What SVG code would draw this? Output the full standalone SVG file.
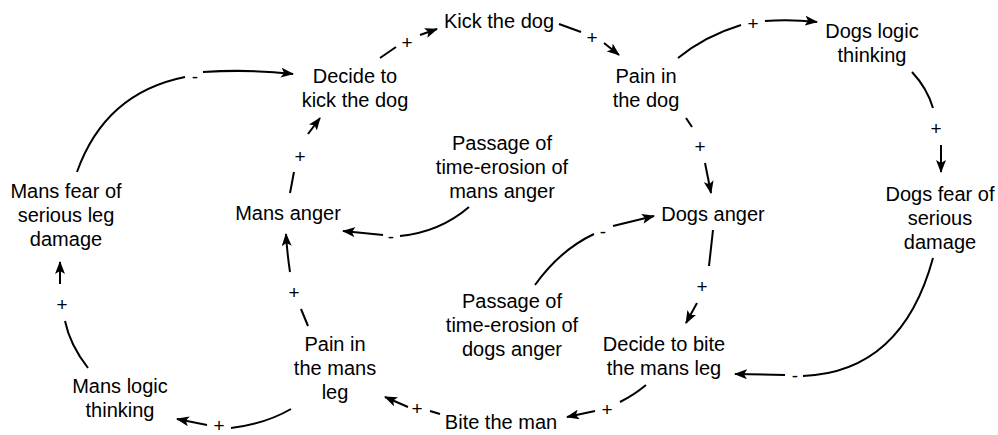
<svg xmlns="http://www.w3.org/2000/svg" width="998" height="435" viewBox="0 0 998 435">
<defs>
<style>
.n text{font-family:"Liberation Sans",Arial,Helvetica,sans-serif;font-size:20px;text-anchor:middle;fill:#000}
.c path{fill:none;stroke:#000;stroke-width:2}
.c path.a{marker-end:url(#ah)}
.c text{font-family:"Liberation Sans",Arial,Helvetica,sans-serif;font-size:19px;text-anchor:middle;fill:#000}
</style>
<marker id="ah" markerUnits="userSpaceOnUse" viewBox="0 0 13 10" refX="12" refY="5" markerWidth="13" markerHeight="10" orient="auto">
<path d="M0,0 L13,5 L0,10 L3,5 z" fill="#000"/>
</marker>
</defs>
<rect width="998" height="435" fill="#fff"/>
<g class="c" id="connectors">
<path d="M77,172 Q105,93 185,77"/><path class="a" d="M203,72 Q250,69 293,74"/><text x="195" y="83">-</text>
<path d="M380,58 L396,47"/><path class="a" d="M420,35 L437,29"/><text x="407" y="49">+</text>
<path d="M559,24 L581,32"/><path class="a" d="M604,43 L619,55"/><text x="592" y="44">+</text>
<path d="M678,58 Q705,36 741,25"/><path class="a" d="M765,21 Q790,19 817,22"/><text x="753" y="30">+</text>
<path d="M912,72 Q927,88 933,108"/><path class="a" d="M941,145 L941,172"/><text x="936" y="135">+</text>
<path d="M686,118 L692,127"/><path class="a" d="M705,163 L711,193"/><text x="700" y="153">+</text>
<path d="M933,258 Q902,372 803,376"/><path class="a" d="M785,375 L735,374"/><text x="795" y="382">-</text>
<path d="M713,230 L709,266"/><path class="a" d="M697,303 L686,323"/><text x="702" y="293">+</text>
<path d="M646,385 Q634,395 620,402"/><path class="a" d="M595,411 L567,417"/><text x="607" y="416">+</text>
<path d="M440,414 L430,411"/><path class="a" d="M408,407 L385,397"/><text x="417" y="415">+</text>
<path d="M291,409 Q265,424 231,428"/><path class="a" d="M207,425 L177,419"/><text x="219" y="432">+</text>
<path d="M88,368 Q70,345 65,321"/><path class="a" d="M60,284 L60,262"/><text x="62" y="311">+</text>
<path d="M308,326 L301,309"/><path class="a" d="M290,272 Q287,252 286,234"/><text x="294" y="299">+</text>
<path d="M290,193 L294,172"/><path class="a" d="M308,134 L320,118"/><text x="300" y="163">+</text>
<path d="M469,207 Q440,232 400,236"/><path class="a" d="M383,235 L343,231"/><text x="391" y="243">-</text>
<path d="M535,285 Q560,250 594,234"/><path class="a" d="M613,226 L654,216"/><text x="603" y="238">-</text>
</g>
<g class="n" id="decide-kick"><text x="355" y="83">Decide to</text><text x="355" y="107">kick the dog</text></g>
<g class="n" id="kick-dog"><text x="499" y="28">Kick the dog</text></g>
<g class="n" id="pain-dog"><text x="646" y="83">Pain in</text><text x="646" y="107">the dog</text></g>
<g class="n" id="dogs-logic"><text x="872" y="38">Dogs logic</text><text x="872" y="62">thinking</text></g>
<g class="n" id="dogs-fear"><text x="940" y="201">Dogs fear of</text><text x="940" y="225">serious</text><text x="940" y="249">damage</text></g>
<g class="n" id="dogs-anger"><text x="713" y="221">Dogs anger</text></g>
<g class="n" id="passage-mans"><text x="502" y="150">Passage of</text><text x="502" y="174">time-erosion of</text><text x="502" y="198">mans anger</text></g>
<g class="n" id="mans-anger"><text x="288" y="220">Mans anger</text></g>
<g class="n" id="mans-fear"><text x="66" y="198">Mans fear of</text><text x="66" y="222">serious leg</text><text x="66" y="246">damage</text></g>
<g class="n" id="passage-dogs"><text x="512" y="308">Passage of</text><text x="512" y="332">time-erosion of</text><text x="512" y="356">dogs anger</text></g>
<g class="n" id="decide-bite"><text x="664" y="351">Decide to bite</text><text x="664" y="375">the mans leg</text></g>
<g class="n" id="pain-leg"><text x="335" y="351">Pain in</text><text x="335" y="375">the mans</text><text x="335" y="399">leg</text></g>
<g class="n" id="mans-logic"><text x="120" y="393">Mans logic</text><text x="120" y="417">thinking</text></g>
<g class="n" id="bite-man"><text x="501" y="429">Bite the man</text></g>
</svg>
